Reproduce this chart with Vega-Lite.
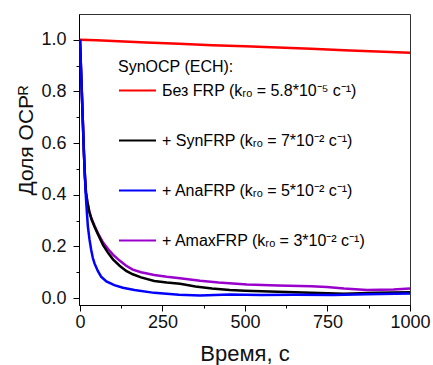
{
  "$schema": "https://vega.github.io/schema/vega-lite/v6.json",
  "width": 331,
  "height": 291,
  "autosize": "none",
  "padding": {"left": 79, "top": 14, "right": 23, "bottom": 60},
  "background": "white",
  "config": {
    "view": {"stroke": "#333", "strokeWidth": 1},
    "font": "Liberation Sans",
    "axis": {"grid": false, "domainColor": "#000", "tickColor": "#000", "labelColor": "#111", "titleColor": "#111", "labelFont": "Liberation Sans", "titleFont": "Liberation Sans", "titleFontWeight": "normal"},
    "legend": {"labelFont": "Liberation Sans", "titleFont": "Liberation Sans"}
  },
  "data": {"values": [
    {"s": "none", "t": 0, "v": 1.0}, {"s": "none", "t": 50, "v": 0.998}, {"s": "none", "t": 100, "v": 0.995}, {"s": "none", "t": 200, "v": 0.99}, {"s": "none", "t": 300, "v": 0.985}, {"s": "none", "t": 400, "v": 0.979}, {"s": "none", "t": 500, "v": 0.975}, {"s": "none", "t": 600, "v": 0.97}, {"s": "none", "t": 700, "v": 0.965}, {"s": "none", "t": 800, "v": 0.96}, {"s": "none", "t": 900, "v": 0.955}, {"s": "none", "t": 1000, "v": 0.95},

    {"s": "amax", "t": 0, "v": 1.0}, {"s": "amax", "t": 3, "v": 0.89}, {"s": "amax", "t": 6, "v": 0.78}, {"s": "amax", "t": 9, "v": 0.67}, {"s": "amax", "t": 12, "v": 0.56}, {"s": "amax", "t": 15, "v": 0.47}, {"s": "amax", "t": 18, "v": 0.41}, {"s": "amax", "t": 22, "v": 0.375}, {"s": "amax", "t": 28, "v": 0.337}, {"s": "amax", "t": 35, "v": 0.307}, {"s": "amax", "t": 44, "v": 0.28}, {"s": "amax", "t": 55, "v": 0.25}, {"s": "amax", "t": 70, "v": 0.215}, {"s": "amax", "t": 85, "v": 0.19}, {"s": "amax", "t": 100, "v": 0.168}, {"s": "amax", "t": 120, "v": 0.145}, {"s": "amax", "t": 140, "v": 0.125}, {"s": "amax", "t": 160, "v": 0.11}, {"s": "amax", "t": 185, "v": 0.1}, {"s": "amax", "t": 225, "v": 0.089}, {"s": "amax", "t": 263, "v": 0.082}, {"s": "amax", "t": 303, "v": 0.077}, {"s": "amax", "t": 364, "v": 0.067}, {"s": "amax", "t": 420, "v": 0.06}, {"s": "amax", "t": 506, "v": 0.052}, {"s": "amax", "t": 600, "v": 0.049}, {"s": "amax", "t": 700, "v": 0.046}, {"s": "amax", "t": 748, "v": 0.043}, {"s": "amax", "t": 800, "v": 0.037}, {"s": "amax", "t": 870, "v": 0.031}, {"s": "amax", "t": 950, "v": 0.033}, {"s": "amax", "t": 1000, "v": 0.037},

    {"s": "syn", "t": 0, "v": 1.0}, {"s": "syn", "t": 3, "v": 0.89}, {"s": "syn", "t": 6, "v": 0.78}, {"s": "syn", "t": 9, "v": 0.67}, {"s": "syn", "t": 12, "v": 0.56}, {"s": "syn", "t": 15, "v": 0.47}, {"s": "syn", "t": 18, "v": 0.41}, {"s": "syn", "t": 22, "v": 0.375}, {"s": "syn", "t": 28, "v": 0.335}, {"s": "syn", "t": 35, "v": 0.305}, {"s": "syn", "t": 44, "v": 0.276}, {"s": "syn", "t": 55, "v": 0.245}, {"s": "syn", "t": 70, "v": 0.205}, {"s": "syn", "t": 85, "v": 0.175}, {"s": "syn", "t": 100, "v": 0.15}, {"s": "syn", "t": 120, "v": 0.125}, {"s": "syn", "t": 140, "v": 0.105}, {"s": "syn", "t": 160, "v": 0.092}, {"s": "syn", "t": 185, "v": 0.08}, {"s": "syn", "t": 225, "v": 0.066}, {"s": "syn", "t": 263, "v": 0.06}, {"s": "syn", "t": 303, "v": 0.055}, {"s": "syn", "t": 350, "v": 0.045}, {"s": "syn", "t": 400, "v": 0.037}, {"s": "syn", "t": 454, "v": 0.031}, {"s": "syn", "t": 500, "v": 0.028}, {"s": "syn", "t": 600, "v": 0.024}, {"s": "syn", "t": 700, "v": 0.02}, {"s": "syn", "t": 800, "v": 0.017}, {"s": "syn", "t": 900, "v": 0.02}, {"s": "syn", "t": 1000, "v": 0.022},

    {"s": "ana", "t": 0, "v": 1.0}, {"s": "ana", "t": 3, "v": 0.89}, {"s": "ana", "t": 6, "v": 0.78}, {"s": "ana", "t": 9, "v": 0.67}, {"s": "ana", "t": 12, "v": 0.56}, {"s": "ana", "t": 15, "v": 0.47}, {"s": "ana", "t": 18, "v": 0.39}, {"s": "ana", "t": 21, "v": 0.33}, {"s": "ana", "t": 24, "v": 0.276}, {"s": "ana", "t": 29, "v": 0.225}, {"s": "ana", "t": 34, "v": 0.186}, {"s": "ana", "t": 39, "v": 0.155}, {"s": "ana", "t": 44, "v": 0.134}, {"s": "ana", "t": 54, "v": 0.105}, {"s": "ana", "t": 64, "v": 0.083}, {"s": "ana", "t": 80, "v": 0.064}, {"s": "ana", "t": 104, "v": 0.05}, {"s": "ana", "t": 130, "v": 0.04}, {"s": "ana", "t": 165, "v": 0.031}, {"s": "ana", "t": 225, "v": 0.02}, {"s": "ana", "t": 300, "v": 0.013}, {"s": "ana", "t": 364, "v": 0.01}, {"s": "ana", "t": 454, "v": 0.014}, {"s": "ana", "t": 550, "v": 0.012}, {"s": "ana", "t": 650, "v": 0.013}, {"s": "ana", "t": 767, "v": 0.012}, {"s": "ana", "t": 870, "v": 0.015}, {"s": "ana", "t": 1000, "v": 0.018}
  ]},
  "mark": {"type": "line", "strokeWidth": 2.5, "clip": true},
  "encoding": {
    "x": {
      "field": "t", "type": "quantitative",
      "scale": {"domain": [-3, 1000], "nice": false, "zero": false},
      "axis": {
        "title": "Время, с",
        "titleFontSize": 22,
        "titleBaseline": "alphabetic",
        "titleY": 55,
        "values": [0, 125, 250, 375, 500, 625, 750, 875, 1000],
        "labelExpr": "datum.value % 250 == 0 ? format(datum.value, 'd') : ''",
        "labelFontSize": 18,
        "labelPadding": 2,
        "labelFlush": false,
        "labelOverlap": false,
        "tickSize": {"condition": {"test": "datum.value % 250 != 0", "value": 3}, "value": 6}
      }
    },
    "y": {
      "field": "v", "type": "quantitative",
      "scale": {"domain": [-0.027, 1.1], "nice": false, "zero": false},
      "axis": {
        "title": "Доля OCPᴿ",
        "titleFontSize": 21,
        "titleBaseline": "alphabetic",
        "titleAlign": "center",
        "titleX": -47,
        "titleY": 126,
        "values": [0, 0.1, 0.2, 0.3, 0.4, 0.5, 0.6, 0.7, 0.8, 0.9, 1.0],
        "labelExpr": "round(datum.value * 10) % 2 == 0 ? format(datum.value, '.1f') : ''",
        "labelFontSize": 18,
        "labelPadding": 7,
        "labelFlush": false,
        "labelOverlap": false,
        "tickSize": {"condition": {"test": "round(datum.value * 10) % 2 == 1", "value": 3}, "value": 6}
      }
    },
    "color": {
      "field": "s", "type": "nominal",
      "scale": {"domain": ["none", "syn", "ana", "amax"], "range": ["#ff0000", "#000000", "#0000ff", "#9900cc"]},
      "legend": {
        "orient": "none",
        "legendX": 39,
        "legendY": 45,
        "padding": 0,
        "title": "SynOCP (ECH):",
        "titleFontSize": 16,
        "titleFontWeight": "normal",
        "titlePadding": -4,
        "labelFontSize": 16,
        "labelOffset": 5,
        "symbolType": "stroke",
        "symbolSize": 1369,
        "symbolStrokeWidth": 2,
        "rowPadding": 22,
        "labelLimit": 400,
        "labelExpr": "datum.value == 'none' ? 'Без FRP (kᵣₒ = 5.8*10⁻⁵ с⁻¹)' : datum.value == 'syn' ? '+ SynFRP (kᵣₒ = 7*10⁻² с⁻¹)' : datum.value == 'ana' ? '+ AnaFRP (kᵣₒ = 5*10⁻² с⁻¹)' : '+ AmaxFRP (kᵣₒ = 3*10⁻² с⁻¹)'"
      }
    }
  }
}
